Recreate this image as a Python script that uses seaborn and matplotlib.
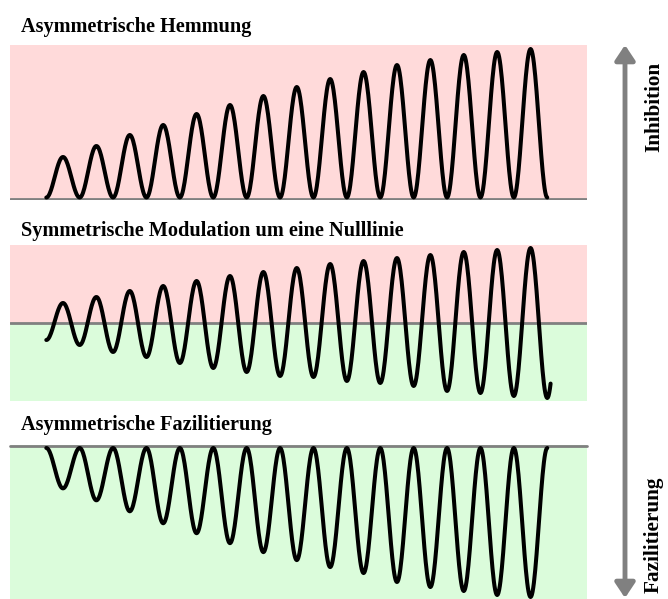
import numpy as np
import pandas as pd
import seaborn as sns
import matplotlib.pyplot as plt
from matplotlib.patches import FancyArrowPatch

sns.set_style('white')
plt.rcParams['font.family'] = ['Liberation Serif', 'DejaVu Serif']

# panel titles and side labels
titles = ['Asymmetrische Hemmung',
          'Symmetrische Modulation um eine Nulllinie',
          'Asymmetrische Fazilitierung']
side_labels = ['Inhibition', 'Fazilitierung']

# cycle number of each peak / trough (15 cycles)
cycles = np.arange(1, 16)

# amplitude of each cycle (pixel-ish units)
hemmung_peaks = [42, 53, 64, 74, 85, 94, 103, 112, 120, 127, 134, 139, 144, 147, 150]
modulation_peaks = [20, 26, 32, 37, 42, 47, 51, 55, 59, 62, 65, 68, 71, 73, 75]
modulation_troughs = [-22, -29, -34, -40, -45, -49, -53, -54, -58, -60, -63, -68, -70, -73, -75]
fazil_troughs = [-42, -54, -65, -77, -87, -97, -106, -114, -121, -127, -136, -141, -145, -149, -151]

pink = '#FFDADA'
green = '#DBFCDB'
grey = '#808080'


def wave(times, values, n=25):
    # smooth half-cosine between successive extrema
    xs, ys = [], []
    for i in range(len(times) - 1):
        s = np.linspace(0, 1, n, endpoint=False)
        xs.append(times[i] + (times[i + 1] - times[i]) * s)
        ys.append(values[i] + (values[i + 1] - values[i]) * (1 - np.cos(np.pi * s)) / 2)
    xs.append([times[-1]])
    ys.append([values[-1]])
    return pd.DataFrame({'t': np.concatenate(xs), 'v': np.concatenate(ys)})


# extrema sequences
t1 = [0.5]
v1 = [1.5]
for c, p in zip(cycles, hemmung_peaks):
    t1 += [c, c + 0.5]
    v1 += [p, 1.5]

t2 = [0.5]
v2 = [-17]
for c, p, q in zip(cycles, modulation_peaks, modulation_troughs):
    t2 += [c, c + 0.5]
    v2 += [p, q]

t3 = [0.5]
v3 = [-1.5]
for c, q in zip(cycles, fazil_troughs):
    t3 += [c, c + 0.5]
    v3 += [q, -1.5]

df1 = wave(t1, v1)
df2 = wave(t2, v2)
# final hook after the last trough
hook = wave([15.5, 16.0], [v2[-1], 76])
hook = hook[hook['t'] <= 15.6]
df2 = pd.concat([df2, hook.iloc[1:]], ignore_index=True)
df3 = wave(t3, v3)

W, H = 668, 599
fig = plt.figure(figsize=(W / 100, H / 100), dpi=100)

xlim = (-0.587, 16.69)
left = 10 / W
width = 577 / W

ax1 = fig.add_axes([left, (H - 200) / H, width, 155 / H])
ax2 = fig.add_axes([left, (H - 401) / H, width, 156 / H])
ax3 = fig.add_axes([left, 0, width, 154 / H])

for ax in (ax1, ax2, ax3):
    ax.set_xlim(*xlim)
    sns.despine(ax=ax, left=True, bottom=True)

ax1.set_ylim(-1, 154)
ax1.set_facecolor(pink)
ax1.axhline(0, color=grey, lw=2, zorder=1)
sns.lineplot(data=df1, x='t', y='v', ax=ax1, color='black', lw=2.9, sort=False, estimator=None)

ax2.set_ylim(-78, 78)
ax2.axhspan(0, 78, color=pink, lw=0, zorder=0)
ax2.axhspan(-78, 0, color=green, lw=0, zorder=0)
ax2.axhline(0, color=grey, lw=2, zorder=1)
sns.lineplot(data=df2, x='t', y='v', ax=ax2, color='black', lw=2.9, sort=False, estimator=None)

ax3.set_ylim(-153, 1.5)
ax3.set_facecolor(green)
ax3.axhline(0, color=grey, lw=2, zorder=1, clip_on=False)
sns.lineplot(data=df3, x='t', y='v', ax=ax3, color='black', lw=2.9, sort=False, estimator=None)

for ax in (ax1, ax2, ax3):
    ax.set_xlabel('')
    ax.set_ylabel('')
    ax.set_xticks([])
    ax.set_yticks([])

# titles
for txt, base in zip(titles, [32, 236, 430]):
    fig.text(21 / W, 1 - base / H, txt, fontsize=14.6, fontweight='bold',
             va='baseline', ha='left', color='black')

# double arrow on the right
arrow = FancyArrowPatch((625 / W, 1 - 45 / H), (625 / W, 1 - 598 / H),
                        transform=fig.transFigure,
                        arrowstyle='<|-|>,head_length=0.45,head_width=0.3',
                        mutation_scale=20, lw=3.5, color=grey,
                        shrinkA=0, shrinkB=0)
fig.add_artist(arrow)

fig.text(654 / W, 1 - 107 / H, side_labels[0], rotation=90, fontsize=15.3,
         fontweight='bold', ha='center', va='center', color='black')
fig.text(654 / W, 1 - 535 / H, side_labels[1], rotation=90, fontsize=15.3,
         fontweight='bold', ha='center', va='center', color='black')

fig.savefig('out.png', dpi=100)
